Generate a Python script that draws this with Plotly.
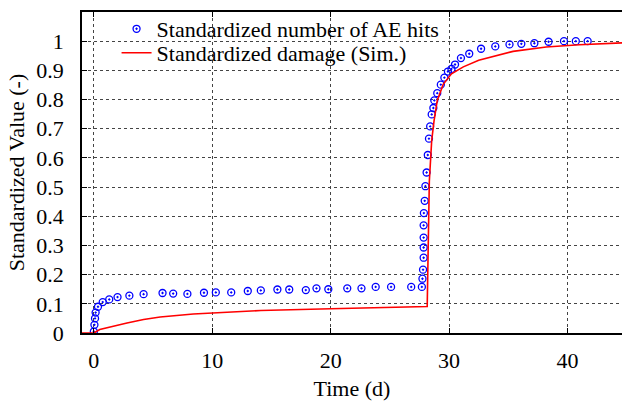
import plotly.graph_objects as go

# Standardized number of AE hits (markers)
ae_time = [0.0, 0.05, 0.1, 0.15, 0.35, 0.75, 1.3, 2.0, 3.0, 4.2, 5.8, 6.7, 7.9, 9.3,
           10.3, 11.6, 13.0, 14.1, 15.5, 16.5, 17.9, 18.8, 19.8, 21.4, 22.6, 23.8,
           25.1, 26.8, 27.7, 27.75, 27.8, 27.85, 27.85, 27.85, 27.85, 27.87, 27.94,
           28.0, 28.1, 28.2, 28.3, 28.4, 28.53, 28.67, 28.75, 29.0, 29.3, 29.6, 29.9,
           30.2, 30.5, 31.0, 31.7, 32.7, 33.9, 35.1, 36.1, 37.2, 38.4, 39.7, 40.7, 41.7]
ae_value = [0.005, 0.028, 0.05, 0.07, 0.09, 0.106, 0.115, 0.123, 0.128, 0.133, 0.137,
            0.135, 0.134, 0.138, 0.139, 0.139, 0.144, 0.146, 0.149, 0.149, 0.147, 0.153,
            0.150, 0.153, 0.153, 0.158, 0.158, 0.158, 0.158, 0.186, 0.217, 0.258, 0.293,
            0.327, 0.369, 0.411, 0.453, 0.503, 0.55, 0.61, 0.666, 0.708, 0.749, 0.771,
            0.797, 0.822, 0.851, 0.875, 0.896, 0.905, 0.92, 0.942, 0.957, 0.974, 0.982,
            0.989, 0.991, 0.993, 0.998, 1.0, 1.0, 1.0]

# Standardized damage (simulation, line)
dmg_time = [-1, 0, 0.5, 1.4, 2.8, 4.2, 5.6, 8.4, 11.2, 14.1, 20, 28.0, 28.15, 28.33,
            28.53, 28.73, 29.0, 29.5, 30.2, 31.2, 32.5, 35.4, 38.2, 41.0, 45]
dmg_value = [0, 0, 0.012, 0.021, 0.034, 0.046, 0.055, 0.065, 0.071, 0.077, 0.083,
             0.090, 0.091, 0.52, 0.66, 0.728, 0.797, 0.852, 0.888, 0.912, 0.935,
             0.965, 0.98, 0.988, 0.995]

x_ticks = [0, 10, 20, 30, 40]
y_ticks = [0, 0.1, 0.2, 0.3, 0.4, 0.5, 0.6, 0.7, 0.8, 0.9, 1]
y_ticklabels = ["0", "0.1", "0.2", "0.3", "0.4", "0.5", "0.6", "0.7", "0.8", "0.9", "1"]

font_family = "Times New Roman, Liberation Serif, DejaVu Serif, serif"

fig = go.Figure()
fig.add_trace(go.Scatter(
    x=ae_time, y=ae_value, mode="markers", name="Standardized number of AE hits",
    marker=dict(symbol="circle-open-dot", size=7, color="#0000ff",
                line=dict(width=1.3, color="#0000ff")),
    legend="legend",
))
fig.add_trace(go.Scatter(
    x=dmg_time, y=dmg_value, mode="lines", name="Standardized damage (Sim.)",
    line=dict(color="#ff0000", width=1.6),
    legend="legend2",
))

axis_common = dict(
    showline=True, linecolor="black", linewidth=1.5,
    ticks="inside", ticklen=5, tickwidth=1, tickcolor="black",
    showgrid=True, gridcolor="#444444", griddash="dot", gridwidth=1,
    zeroline=False,
    tickfont=dict(family=font_family, size=22, color="black"),
    title_font=dict(family=font_family, size=22, color="black"),
)

legend_font = dict(family=font_family, size=22, color="black")

# opaque key box (hides the grid behind the legend, like the original)
fig.add_shape(type="rect", xref="paper", yref="paper",
              x0=0, x1=0.685, y0=0.832, y1=1.0,
              fillcolor="white", line=dict(width=0), layer="between")

fig.update_layout(
    width=622, height=401,
    margin=dict(l=82, r=0, t=12, b=68),
    paper_bgcolor="white", plot_bgcolor="white",
    font=dict(family=font_family, size=22, color="black"),
    xaxis=dict(range=[-1, 44.6], tickvals=x_ticks, mirror="ticks",
               title=dict(text="Time (d)", standoff=10),
               ticklabelstandoff=7, **axis_common),
    yaxis=dict(range=[0, 1.1], tickvals=y_ticks, ticktext=y_ticklabels,
               title=dict(text="Standardized Value (-)", standoff=6),
               ticklabelstandoff=12, **axis_common),
    legend=dict(x=0.064, y=1.0125, xanchor="left", yanchor="top",
                bgcolor="rgba(0,0,0,0)", borderwidth=0, font=legend_font),
    legend2=dict(x=0.064, y=0.9377, xanchor="left", yanchor="top",
                 bgcolor="rgba(0,0,0,0)", borderwidth=0, font=legend_font),
    showlegend=True,
)

fig.write_html("out.html")
